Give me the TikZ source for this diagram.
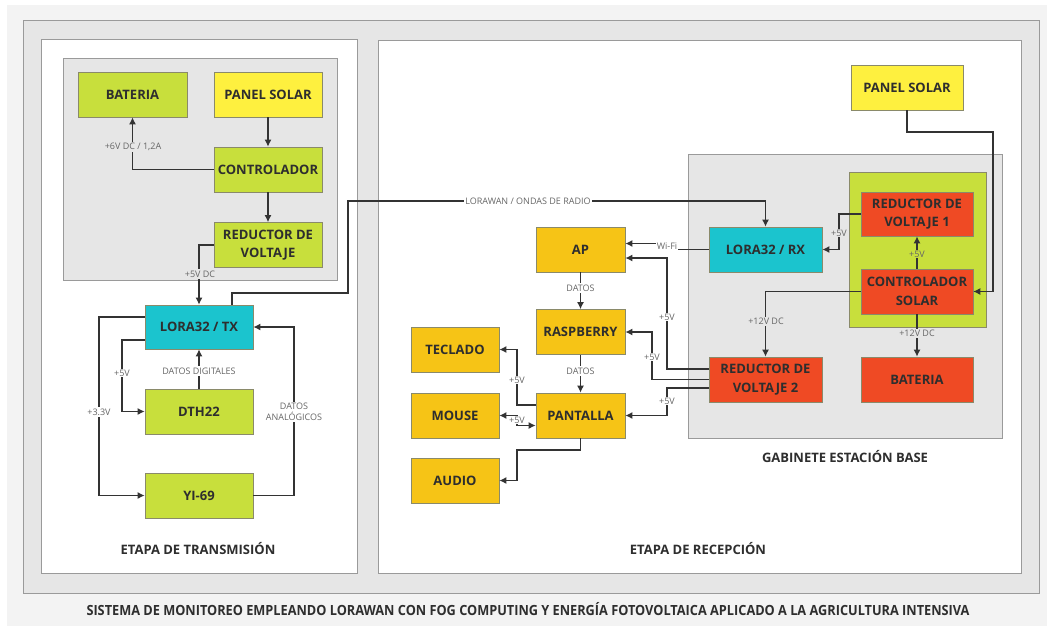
\documentclass[tikz,border=0pt]{standalone}
\usepackage{fontspec}
\usepackage{graphicx}
\setmainfont{Open Sans}
\usetikzlibrary{arrows.meta}
\definecolor{pagebg}{HTML}{F3F3F3}
\definecolor{framebg}{HTML}{E6E6E6}
\definecolor{frameline}{HTML}{9A9A9A}
\definecolor{boxline}{HTML}{8A8A6A}
\definecolor{cgreen}{HTML}{C8DF3C}
\definecolor{cyellow}{HTML}{FEF03F}
\definecolor{ccyan}{HTML}{1BC4CE}
\definecolor{cgold}{HTML}{F6C416}
\definecolor{cred}{HTML}{EF4A24}
\definecolor{txt}{HTML}{2E2E2E}
\definecolor{lineC}{HTML}{333333}
\definecolor{lblC}{HTML}{666666}
\begin{document}
\begin{tikzpicture}[x=1pt,y=-1pt,
  box/.style={draw=boxline, line width=0.6pt, minimum width=108pt, minimum height=45pt,
    inner sep=0pt, align=center, text=txt, font=\fontsize{13}{18.5}\selectfont\bfseries},
  gbox/.style={box, fill=cgreen},
  ybox/.style={box, fill=cyellow},
  cbox/.style={box, fill=ccyan},
  obox/.style={box, fill=cgold},
  rbox/.style={box, fill=cred},
  panel/.style={draw=frameline, line width=0.8pt},
  conn/.style={draw=lineC, line width=1.7pt, -{Latex[length=7pt,width=7pt]}},
  lbl/.style={font=\fontsize{9}{11}\selectfont, text=lblC, fill=white, inner sep=1.2pt, align=center},
  title/.style={font=\fontsize{13}{15}\selectfont\bfseries, text=txt}
]
\useasboundingbox (0,0) rectangle (1047,626);
\fill[white] (0,0) rectangle (1047,626);
\fill[pagebg] (7,5) rectangle (1047,626);
% frames
\filldraw[panel, fill=framebg] (23,20) rectangle (1039,593);
\filldraw[panel, fill=white] (41,39) rectangle (357,573);
\filldraw[panel, fill=white] (378,40) rectangle (1021,573);
\filldraw[panel, fill=framebg] (63,58) rectangle (337,280);
\filldraw[panel, fill=framebg] (688,154) rectangle (1002,438);
\filldraw[draw=boxline, line width=0.6pt, fill=cgreen] (849,172) rectangle (986,327);

% left boxes
\node[gbox, minimum width=109pt] (bat1) at (132.5,94.5) {BATERIA};
\node[ybox] (ps1) at (268,94.5) {PANEL SOLAR};
\node[gbox] (ctl1) at (268,169.5) {CONTROLADOR};
\node[gbox] (rv) at (268,245) {REDUCTOR DE\\VOLTAJE};
\node[cbox, minimum height=44pt] (tx) at (199,327) {LORA32 / TX};
\node[gbox] (dth) at (199,411.5) {DTH22};
\node[gbox] (yi) at (199,495.5) {YI-69};

% right boxes
\node[obox, minimum width=89pt] (ap) at (580.5,249.5) {AP};
\node[obox, minimum width=89pt] (rasp) at (580.5,332) {RASPBERRY};
\node[obox, minimum width=89pt] (pant) at (580.5,415.5) {PANTALLA};
\node[obox, minimum width=88pt] (tec) at (455,349.5) {TECLADO};
\node[obox, minimum width=88pt] (mouse) at (455,415.5) {MOUSE};
\node[obox, minimum width=88pt] (audio) at (455,480.5) {AUDIO};
\node[cbox, minimum width=113pt] (rx) at (765.5,249.5) {LORA32 / RX};
\node[rbox, minimum width=113pt] (rv2) at (765.5,379.5) {REDUCTOR DE\\VOLTAJE 2};
\node[ybox, minimum width=112pt] (ps2) at (907,87.5) {PANEL SOLAR};
\node[rbox, minimum width=112pt, minimum height=44pt] (rv1) at (917,214) {REDUCTOR DE\\VOLTAJE 1};
\node[rbox, minimum width=112pt] (cs) at (917,291.5) {CONTROLADOR\\SOLAR};
\node[rbox, minimum width=112pt] (bat2) at (917,379.5) {BATERIA};

% coordinates
\coordinate (w1) at (348,293);
\coordinate (w2) at (348,201);
\coordinate (k1) at (122,411.5);
\coordinate (k2) at (99,495.5);
\coordinate (k3) at (294,327);
\coordinate (wf) at (667,246);
\coordinate (k4) at (667,300);
\coordinate (k5) at (652,332);
\coordinate (k6) at (667,415.5);
\coordinate (k7) at (517,349.5);
\coordinate (k8) at (517,420);
\coordinate (k9) at (517,450);
\coordinate (k10) at (993,132);
\coordinate (k11) at (839,249.5);

% left connectors
\draw[conn] (ps1.south) -- (ctl1.north);
\draw[conn] (ctl1.west) -| (bat1.south);
\draw[conn] (ctl1.south) -- (rv.north);
\draw[conn] (rv.west) -| (tx.north);
\draw[conn] ([xshift=33pt]tx.north) |- (w1) -- (w2) -| (rx.north);
\draw[conn] ([yshift=-13pt]tx.west) -| (k1) -- (dth.west);
\draw[conn] ([yshift=10pt]tx.west) -| (k2) -- (yi.west);
\draw[conn] (dth.north) -- (tx.south);
\draw[conn] (yi.east) -| (k3) -- (tx.east);

% right connectors
\draw[conn] (ap.south) -- (rasp.north);
\draw[conn] (rasp.south) -- (pant.north);
\draw[conn] (rx.west) -| (wf) |- ([yshift=6pt]ap.east);
\draw[conn] ([yshift=10.5pt]rv2.west) -| (k4) |- ([yshift=-8.5pt]ap.east);
\draw[conn] (rv2.west) -| (k5) -- (rasp.east);
\draw[conn] ([yshift=-8.5pt]rv2.west) -| (k6) -- (pant.east);
\draw[conn] ([yshift=10.5pt]pant.west) -| (k7) -- (tec.east);
\draw[conn, {Latex[length=7pt,width=7pt]}-{Latex[length=7pt,width=7pt]}] (mouse.east) -| (k8) |- ([yshift=-10pt]pant.west);
\draw[conn] (pant.south) |- (k9) |- (audio.east);
\draw[conn, line width=1.1pt] (ps2.south) |- (k10) |- (cs.east);
\draw[conn] (cs.north) -- (rv1.south);
\draw[conn] (rv1.west) -| (k11) -- (rx.east);
\draw[conn] (cs.west) -| (rv2.north);
\draw[conn] (cs.south) -- (bat2.north);

% labels
\node[lbl, fill=framebg] at (133,147) {+6V DC / 1,2A};
\node[lbl, fill=framebg] at (200,274) {+5V DC};
\node[lbl] at (528,201) {LORAWAN / ONDAS DE RADIO};
\node[lbl] at (122,373) {+5V};
\node[lbl] at (99,412) {+3.3V};
\node[lbl] at (199,371) {DATOS DIGITALES};
\node[lbl] at (294,412) {DATOS\\ANALÓGICOS};
\node[lbl] at (580.5,288) {DATOS};
\node[lbl] at (580.5,371) {DATOS};
\node[lbl] at (wf) {Wi-Fi};
\node[lbl] at (667,317) {+5V};
\node[lbl] at (652,357) {+5V};
\node[lbl] at (667,401) {+5V};
\node[lbl] at (517,380) {+5V};
\node[lbl] at (k8) {+5V};
\node[lbl, fill=cgreen] at (917,254) {+5V};
\node[lbl, fill=framebg] at (839,233) {+5V};
\node[lbl, fill=framebg] at (766,321) {+12V DC};
\node[lbl, fill=framebg] at (917,333) {+12V DC};

% titles
\node[title] at (198,549) {ETAPA DE TRANSMISIÓN};
\node[title] at (698,549) {ETAPA DE RECEPCIÓN};
\node[title] at (845,457) {GABINETE ESTACIÓN BASE};
\node[text=txt] at (528,609) {\resizebox{883pt}{\height}{\fontsize{14}{16}\selectfont\bfseries SISTEMA DE MONITOREO EMPLEANDO LORAWAN CON FOG COMPUTING Y ENERGÍA FOTOVOLTAICA APLICADO A LA AGRICULTURA INTENSIVA}};
\end{tikzpicture}
\end{document}
